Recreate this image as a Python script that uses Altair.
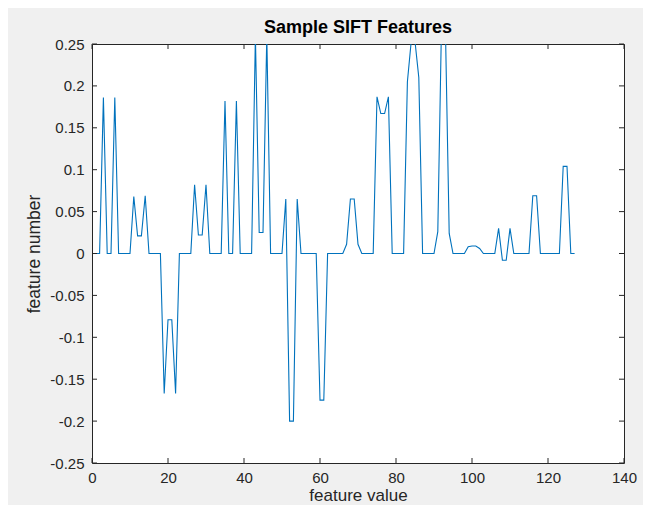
import altair as alt
import pandas as pd

# feature index (0..127) and the SIFT descriptor values
feature_index = list(range(128))
feature_values = [
    0, 0, 0, 0.186, 0, 0, 0.186, 0, 0, 0,
    0, 0.068, 0.021, 0.021, 0.069, 0, 0, 0, 0, -0.167,
    -0.079, -0.079, -0.167, 0, 0, 0, 0, 0.082, 0.022, 0.022,
    0.082, 0, 0, 0, 0, 0.182, 0, 0, 0.182, 0,
    0, 0, 0, 0.26, 0.025, 0.025, 0.26, 0, 0, 0,
    0, 0.065, -0.2, -0.2, 0.065, 0, 0, 0, 0, 0,
    -0.175, -0.175, 0, 0, 0, 0, 0, 0.011, 0.065, 0.065,
    0.011, 0, 0, 0, 0, 0.187, 0.167, 0.167, 0.187, 0,
    0, 0, 0, 0.205, 0.253, 0.253, 0.21, 0, 0, 0,
    0, 0.026, 0.28, 0.27, 0.024, 0, 0, 0, 0, 0.008,
    0.009, 0.009, 0.006, 0, 0, 0, 0, 0.03, -0.008, -0.008,
    0.03, 0, 0, 0, 0, 0, 0.069, 0.069, 0, 0,
    0, 0, 0, 0, 0.104, 0.104, 0, 0,
]
x_ticks = [0, 20, 40, 60, 80, 100, 120, 140]
y_ticks = [-0.25, -0.2, -0.15, -0.1, -0.05, 0, 0.05, 0.1, 0.15, 0.2, 0.25]

df = pd.DataFrame({"idx": feature_index, "val": feature_values})
xt = pd.DataFrame({"idx": x_ticks})
yt = pd.DataFrame({"val": y_ticks})

W, H = 532, 419
TL = 5  # inward tick length
AX = "#262626"
FONT = "Liberation Sans"

xscale = alt.Scale(domain=[0, 140], nice=False, zero=False)
yscale = alt.Scale(domain=[-0.25, 0.25], nice=False, zero=False)

x_axis = alt.Axis(values=x_ticks, title="feature value", ticks=False, domain=False,
                  grid=False, labelPadding=7, titlePadding=2,
                  labelFontSize=15, titleFontSize=17, labelFlush=False)
y_axis = alt.Axis(values=y_ticks, title="feature number", ticks=False, domain=False,
                  grid=False, labelPadding=8, titlePadding=6,
                  labelFontSize=15, titleFontSize=17.5, labelFlush=False,
                  labelExpr="replace(format(datum.value, '~g'), '\u2212', '-')")

line = alt.Chart(df).mark_line(color="#0072BD", strokeWidth=1.1, clip=True).encode(
    x=alt.X("idx:Q", scale=xscale, axis=x_axis),
    y=alt.Y("val:Q", scale=yscale, axis=y_axis),
)

rule = dict(color=AX, strokeWidth=1)
top = alt.Chart(xt).mark_rule(**rule).encode(
    x=alt.X("idx:Q", scale=xscale, axis=x_axis), y=alt.value(0), y2=alt.value(TL))
bottom = alt.Chart(xt).mark_rule(**rule).encode(
    x=alt.X("idx:Q", scale=xscale, axis=x_axis), y=alt.value(H - TL), y2=alt.value(H))
left = alt.Chart(yt).mark_rule(**rule).encode(
    y=alt.Y("val:Q", scale=yscale, axis=y_axis), x=alt.value(0), x2=alt.value(TL))
right = alt.Chart(yt).mark_rule(**rule).encode(
    y=alt.Y("val:Q", scale=yscale, axis=y_axis), x=alt.value(W - TL), x2=alt.value(W))

chart = alt.layer(line, top, bottom, left, right).properties(
    width=W,
    height=H,
    title=alt.TitleParams("Sample SIFT Features", fontSize=18, fontWeight="bold",
                          font=FONT, color="#000000", frame="group", anchor="middle",
                          baseline="bottom", offset=9, dy=27),
    padding={"left": 84, "top": 36, "right": 19, "bottom": 42},
    autosize=alt.AutoSizeParams(type="none"),
    background="#f0f0f0",
).configure_view(
    fill="white", stroke=AX, strokeWidth=1
).configure_axis(
    labelFont=FONT, titleFont=FONT, labelColor=AX, titleColor=AX, titleFontWeight="normal"
)

chart.save("out.html", embed_options={"renderer": "svg", "actions": False})
